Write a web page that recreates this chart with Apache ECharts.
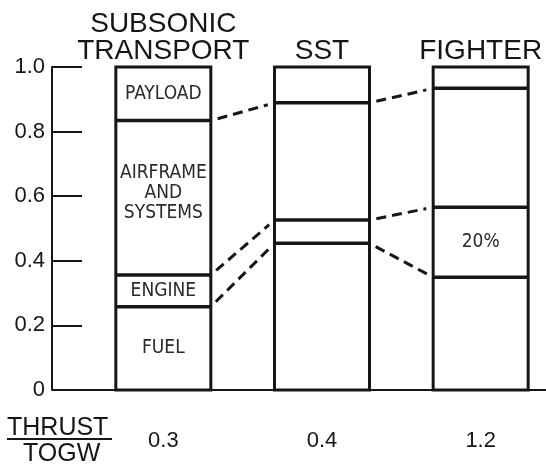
<!DOCTYPE html>
<html>
<head>
    <meta charset="utf-8">
    <title>Weight fractions</title>
    <script src="https://cdn.jsdelivr.net/npm/echarts@6/dist/echarts.min.js"></script>
</head>
<body style="margin:0;background:#fff;overflow:hidden">
    <!-- a bit wider than the window so the category bands land where the bars sit -->
    <div id="main" style="width:560px;height:464px;"></div>
    <script type="text/javascript">
    // aircraft types and thrust / take-off gross weight
    var categories = ['SUBSONIC\nTRANSPORT', 'SST', 'FIGHTER'];
    var thrustToGw = ['0.3', '0.4', '1.2'];

    // weight fractions, stacked bottom to top
    var fuel     = [0.258, 0.454, 0.349];
    var engine   = [0.098, 0.072, 0.217];
    var airframe = [0.478, 0.363, 0.368];
    var payload  = [0.166, 0.111, 0.066];

    var fuelLabels     = ['FUEL', '', ''];
    var engineLabels   = ['ENGINE', '', '20%'];
    var airframeLabels = ['AIRFRAME\nAND\nSYSTEMS', '', ''];
    var payloadLabels  = ['PAYLOAD', '', ''];

    var ink = '#161616';
    var narrow = '"Liberation Sans Narrow", "DejaVu Sans Condensed", "Liberation Sans", sans-serif';
    var barW = 95;

    // cumulative tops of each segment
    var cum = categories.map(function (c, i) {
        var a = fuel[i], b = a + engine[i], d = b + airframe[i];
        return [a, b, d, d + payload[i]];
    });
    var connectors = [];
    for (var i = 0; i < categories.length - 1; i++) {
        for (var b = 0; b < 3; b++) connectors.push([i, b]);
    }

    function seg(name, values, labels, extra) {
        return {
            name: name,
            type: 'bar',
            stack: 'w',
            barWidth: barW,
            itemStyle: { color: 'rgba(255,255,255,0)', borderWidth: 0 },
            data: values.map(function (v, i) {
                return {
                    value: v,
                    label: Object.assign({
                        show: labels[i] !== '',
                        formatter: labels[i],
                        position: 'inside',
                        color: '#2a2a2a',
                        fontFamily: narrow,
                        fontSize: 19,
                        lineHeight: 20
                    }, extra || {})
                };
            })
        };
    }

    var myChart = echarts.init(document.getElementById('main'));

    var option = {
        backgroundColor: '#fff',
        animation: false,
        grid: { left: 84, top: 67, right: 0, bottom: 74 },
        xAxis: [{
            type: 'category',
            data: thrustToGw,
            axisLine: { show: false },
            axisTick: { show: false },
            axisLabel: { interval: 0, margin: 40, color: ink, fontSize: 22, fontFamily: 'Liberation Sans' }
        }, {
            type: 'category',
            position: 'top',
            data: categories,
            axisLine: { show: false },
            axisTick: { show: false },
            axisLabel: { interval: 0, margin: 2, color: ink, fontSize: 28, lineHeight: 27, fontFamily: 'Liberation Sans' }
        }],
        yAxis: {
            type: 'value',
            min: 0,
            max: 1,
            interval: 0.2,
            offset: 32,
            axisLine: { show: true, lineStyle: { color: ink, width: 2 } },
            axisTick: { show: true, inside: true, length: 30, lineStyle: { color: ink, width: 2 } },
            splitLine: { show: false },
            axisLabel: {
                margin: 7, color: ink, fontSize: 22, fontFamily: 'Liberation Sans',
                formatter: function (v) { return v === 0 ? '0' : v.toFixed(1); }
            }
        },
        graphic: [
            { type: 'text', left: 7, top: 416, style: { text: 'THRUST', fontSize: 25, fontFamily: 'Liberation Sans', fill: ink } },
            { type: 'rect', left: 7, top: 438, shape: { width: 105, height: 2 }, style: { fill: ink } },
            { type: 'text', left: 23, top: 442, style: { text: 'TOGW', fontSize: 25, fontFamily: 'Liberation Sans', fill: ink } }
        ],
        series: [
            seg('Fuel', fuel, fuelLabels),
            seg('Engine', engine, engineLabels),
            seg('Airframe and systems', airframe, airframeLabels, { offset: [0, -5] }),
            seg('Payload', payload, payloadLabels),
            {
                // outline of each column and the lines between its segments
                type: 'custom',
                name: 'frames',
                data: categories.map(function (c, i) { return [i, cum[i][3]]; }),
                z: 4,
                renderItem: function (params, api) {
                    var c = api.value(0);
                    var base = api.coord([c, 0]);
                    var top = api.coord([c, cum[c][3]]);
                    var x0 = base[0] - barW / 2;
                    var kids = [{
                        type: 'rect',
                        shape: { x: x0, y: top[1], width: barW, height: base[1] - top[1] },
                        style: { fill: null, stroke: ink, lineWidth: 3 }
                    }];
                    for (var k = 0; k < 3; k++) {
                        var y = api.coord([c, cum[c][k]])[1];
                        kids.push({
                            type: 'line',
                            shape: { x1: x0, y1: y, x2: x0 + barW, y2: y },
                            style: { stroke: ink, lineWidth: 3.5 }
                        });
                    }
                    return { type: 'group', children: kids };
                }
            },
            {
                type: 'custom',
                name: 'connectors',
                data: connectors,
                z: 5,
                renderItem: function (params, api) {
                    var c = api.value(0), k = api.value(1);
                    var p1 = api.coord([c, cum[c][k]]);
                    var p2 = api.coord([c + 1, cum[c + 1][k]]);
                    var x1 = p1[0] + barW / 2, y1 = p1[1];
                    var x2 = p2[0] - barW / 2, y2 = p2[1];
                    var len = Math.sqrt((x2 - x1) * (x2 - x1) + (y2 - y1) * (y2 - y1));
                    var t = 7 / len;
                    return {
                        type: 'line',
                        shape: {
                            x1: x1 + (x2 - x1) * t, y1: y1 + (y2 - y1) * t,
                            x2: x2 - (x2 - x1) * t, y2: y2 - (y2 - y1) * t
                        },
                        style: { stroke: ink, lineWidth: 3, lineDash: [10, 6] }
                    };
                }
            }
        ]
    };
    myChart.setOption(option);

    // baseline runs from the y axis to the right edge
    var y0 = myChart.convertToPixel({ yAxisIndex: 0 }, 0);
    myChart.setOption({
        graphic: option.graphic.concat([{
            type: 'line',
            shape: { x1: 52, y1: y0, x2: 560, y2: y0 },
            style: { stroke: ink, lineWidth: 2 },
            z: 10
        }])
    });
    </script>
</body>
</html>
